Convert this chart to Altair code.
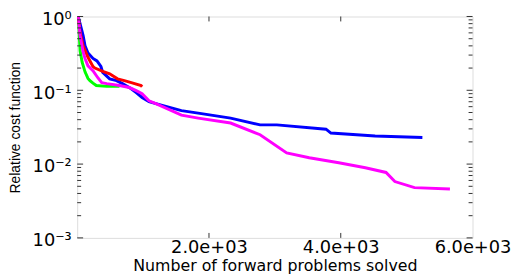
import altair as alt
import pandas as pd

# x: number of forward problems solved, y: relative cost function
blue_x = [15, 60, 90, 119, 164, 240, 300, 360, 388, 493, 597, 687, 821, 896, 985, 1090, 1194, 1582, 1836, 2328, 2776, 3030, 3776, 3851, 4522, 5239]
blue_y = [1.0, 0.7, 0.55, 0.40, 0.32, 0.27, 0.25, 0.21, 0.175, 0.143, 0.135, 0.123, 0.105, 0.093, 0.080, 0.070, 0.066, 0.053, 0.049, 0.042, 0.034, 0.034, 0.0297, 0.0263, 0.024, 0.023]

green_x = [15, 30, 45, 75, 119, 164, 194, 239, 290, 450, 642]
green_y = [1.0, 0.6, 0.34, 0.24, 0.178, 0.145, 0.135, 0.125, 0.116, 0.113, 0.113]

red_x = [15, 45, 90, 164, 239, 269, 388, 493, 612, 716, 821, 970, 985]
red_y = [1.0, 0.6, 0.4, 0.28, 0.21, 0.2, 0.18, 0.167, 0.143, 0.135, 0.127, 0.116, 0.112]

magenta_x = [15, 45, 90, 119, 164, 239, 313, 373, 448, 642, 791, 896, 985, 1090, 1194, 1582, 1836, 2328, 2776, 3179, 3522, 3970, 4373, 4687, 4821, 5119, 5657]
magenta_y = [1.0, 0.55, 0.33, 0.27, 0.214, 0.184, 0.148, 0.127, 0.123, 0.116, 0.109, 0.099, 0.090, 0.072, 0.066, 0.046, 0.042, 0.036, 0.025, 0.0142, 0.0122, 0.0104, 0.0089, 0.0077, 0.0058, 0.0048, 0.0046]

x_ticks = [2000, 4000, 6000]
y_major = [0.001, 0.01, 0.1, 1]
y_minor = [m * d for d in [0.001, 0.01, 0.1] for m in range(2, 10)]

W, H = 400, 224

xscale = alt.Scale(domain=[0, 6000], nice=False, zero=False)
yscale = alt.Scale(type="log", domain=[0.001, 1], nice=False)

x_axis = alt.Axis(
    values=x_ticks, labelExpr="format(datum.value/1000, '.1f') + 'e+03'",
    ticks=False, domain=False, grid=False, labelFont="DejaVu Sans", labelFontSize=18,
    labelColor="black", labelPadding=1, labelFlush=False, labelOverlap=False,
    title="Number of forward problems solved", titleFont="DejaVu Sans", titleFontSize=16,
    titleFontWeight="normal", titleColor="black", titleBaseline="alphabetic", titleY=33,
)
y_axis = alt.Axis(
    values=y_major,
    labelExpr="datum.value > 0.5 ? '10⁰' : datum.value > 0.05 ? '10⁻¹' : datum.value > 0.005 ? '10⁻²' : '10⁻³'",
    ticks=False, domain=False, grid=False, labelFont="DejaVu Sans", labelFontSize=18,
    labelColor="black", labelPadding=6, labelFlush=False, labelOverlap=False, labelBaseline="middle",
    labelOffset=3,
    title="Relative cost function", titleFont="Liberation Sans", titleFontSize=14,
    titleFontWeight="normal", titleColor="black", titleBaseline="alphabetic", titleX=-58,
)


def series(xs, ys, color):
    df = pd.DataFrame({"x": xs, "y": ys})
    return alt.Chart(df).mark_line(color=color, strokeWidth=3, clip=True).encode(
        x=alt.X("x:Q", scale=xscale, axis=x_axis),
        y=alt.Y("y:Q", scale=yscale, axis=y_axis),
    )


def yticks(vals, length, side):
    df = pd.DataFrame({"y": vals})
    if side == "left":
        xe, x2e = alt.value(0), alt.value(length)
    else:
        xe, x2e = alt.value(W - length), alt.value(W)
    return alt.Chart(df).mark_rule(color="#333", strokeWidth=1).encode(
        y=alt.Y("y:Q", scale=yscale, axis=y_axis), x=xe, x2=x2e
    )


def xticks(vals, length, side):
    df = pd.DataFrame({"x": vals})
    if side == "bottom":
        ye, y2e = alt.value(H - length), alt.value(H)
    else:
        ye, y2e = alt.value(0), alt.value(length)
    return alt.Chart(df).mark_rule(color="#333", strokeWidth=1).encode(
        x=alt.X("x:Q", scale=xscale, axis=x_axis), y=ye, y2=y2e
    )


chart = alt.layer(
    series(blue_x, blue_y, "#0000ff"),
    series(green_x, green_y, "#00ff00"),
    series(red_x, red_y, "#ff0000"),
    series(magenta_x, magenta_y, "#ff00ff"),
    yticks(y_major, 6, "left"),
    yticks(y_major, 6, "right"),
    yticks(y_minor, 4, "left"),
    yticks(y_minor, 4, "right"),
    xticks(x_ticks[:2], 5, "bottom"),
    xticks(x_ticks[:2], 5, "top"),
).properties(
    width=W, height=H,
    autosize=alt.AutoSizeParams(type="none"),
    padding={"left": 70, "top": 7, "right": 46, "bottom": 40},
).configure_view(stroke="#333", strokeWidth=1).configure(background="white")

chart.save("out.html", embed_options={"renderer": "svg", "actions": False})
